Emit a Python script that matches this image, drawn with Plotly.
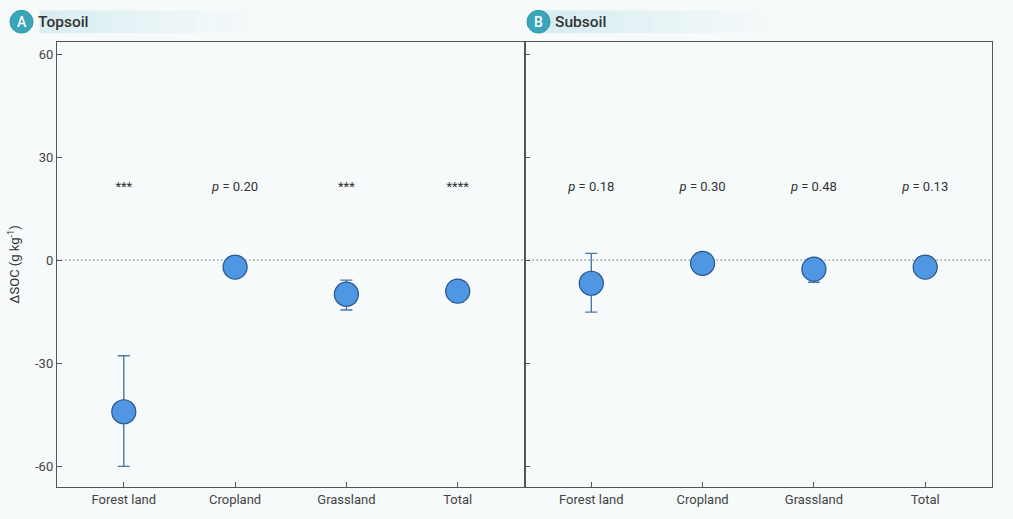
import plotly.graph_objects as go
from plotly.subplots import make_subplots

# kategorie i wartości
categories = ["Forest land", "Cropland", "Grassland", "Total"]

top_mean = [-44.1, -2.0, -9.9, -9.0]
top_err_plus = [16.3, 1.0, 4.1, 3.0]
top_err_minus = [15.9, 1.0, 4.6, 3.2]
top_labels = ["***", "<i>p</i> = 0.20", "***", "****"]

sub_mean = [-6.7, -0.9, -2.6, -2.0]
sub_err_plus = [8.7, 0.5, 0.5, 0.5]
sub_err_minus = [8.4, 0.5, 3.8, 0.8]
sub_labels = ["<i>p</i> = 0.18", "<i>p</i> = 0.30", "<i>p</i> = 0.48", "<i>p</i> = 0.13"]

label_y = [21, 21, 21, 21]
y_ticks = [-60, -30, 0, 30, 60]
y_tick_text = ["-60", "-30", "0", "30", "60"]

W, H = 1013, 519
ML, MR, MT, MB = 57, 21, 42, 27
BG = "#f6fafa"
FONT = "Roboto"


def px_x(px):
    return (px - ML) / (W - ML - MR)


def px_y(py):
    return (H - MB - py) / (H - MT - MB)


fig = make_subplots(rows=1, cols=2, horizontal_spacing=0, shared_yaxes=True)

panels = [
    (1, top_mean, top_err_plus, top_err_minus, top_labels),
    (2, sub_mean, sub_err_plus, sub_err_minus, sub_labels),
]

for col, mean, ep, em, labels in panels:
    fig.add_trace(
        go.Scatter(
            x=categories,
            y=mean,
            mode="markers",
            marker=dict(size=24, color="#4f97e3", line=dict(color="#26558a", width=1.2)),
            error_y=dict(
                type="data", symmetric=False, array=ep, arrayminus=em,
                color="#4a78a8", thickness=1.4, width=6,
            ),
            showlegend=False,
            hoverinfo="x+y",
        ),
        row=1, col=col,
    )
    fig.add_trace(
        go.Scatter(
            x=categories,
            y=label_y,
            mode="text",
            text=labels,
            textfont=dict(family=FONT, size=13, color="#333333"),
            showlegend=False,
            hoverinfo="skip",
        ),
        row=1, col=col,
    )
    fig.add_hline(y=0, line=dict(color="#8a8a8a", width=1.2, dash="1.5px,2.5px"),
                  row=1, col=col, layer="below")

axis_common = dict(
    showline=True, linecolor="#555555", linewidth=1.3, mirror=True,
    ticks="inside", ticklen=5, tickcolor="#555555",
    showgrid=False, zeroline=False,
    tickfont=dict(family=FONT, size=13, color="#444444"),
)

fig.update_xaxes(range=[-0.6, 3.6], **axis_common)
fig.update_yaxes(range=[-66, 63.5], tickvals=y_ticks, ticktext=y_tick_text, **axis_common)
fig.update_yaxes(
    title=dict(text="ΔSOC (g kg<sup>-1</sup>)", font=dict(family=FONT, size=13, color="#333333"), standoff=12),
    row=1, col=1,
)
fig.update_yaxes(showticklabels=False, row=1, col=2)

# nagłówki paneli z gradientem
shapes = []
annotations = []
for x0, letter, title in [(10, "A", "Topsoil"), (527, "B", "Subsoil")]:
    steps = 24
    x_start, x_end = x0 + 10, x0 + 245
    for i in range(steps):
        a = x_start + (x_end - x_start) * i / steps
        b = x_start + (x_end - x_start) * (i + 1) / steps
        shapes.append(dict(
            type="rect", xref="paper", yref="paper",
            x0=px_x(a), x1=px_x(b), y0=px_y(33), y1=px_y(10),
            fillcolor="#d3ebf0", opacity=0.95 * (1 - i / steps) ** 1.1,
            line=dict(width=0), layer="below",
        ))
    shapes.append(dict(
        type="circle", xref="paper", yref="paper",
        x0=px_x(x0), x1=px_x(x0 + 23), y0=px_y(33), y1=px_y(10),
        fillcolor="#3aa6b9", line=dict(color="#2f95a8", width=1),
    ))
    annotations.append(dict(
        text=letter, xref="paper", yref="paper",
        x=px_x(x0 + 11.5), y=px_y(21.5), xanchor="center", yanchor="middle",
        showarrow=False,
        font=dict(family=FONT, size=14, color="white", weight=500),
    ))
    annotations.append(dict(
        text=title, xref="paper", yref="paper",
        x=px_x(x0 + 26), y=px_y(21.5), xanchor="left", yanchor="middle",
        showarrow=False,
        font=dict(family=FONT, size=15.5, color="#333333", weight=500),
    ))

fig.update_layout(
    width=W, height=H,
    margin=dict(l=ML, r=MR, t=MT, b=MB),
    paper_bgcolor=BG, plot_bgcolor=BG,
    font=dict(family=FONT),
    shapes=shapes,
    annotations=annotations,
)

fig.write_html("out.html", config={"displayModeBar": False},
               post_script="document.body.style.margin = '0';")
